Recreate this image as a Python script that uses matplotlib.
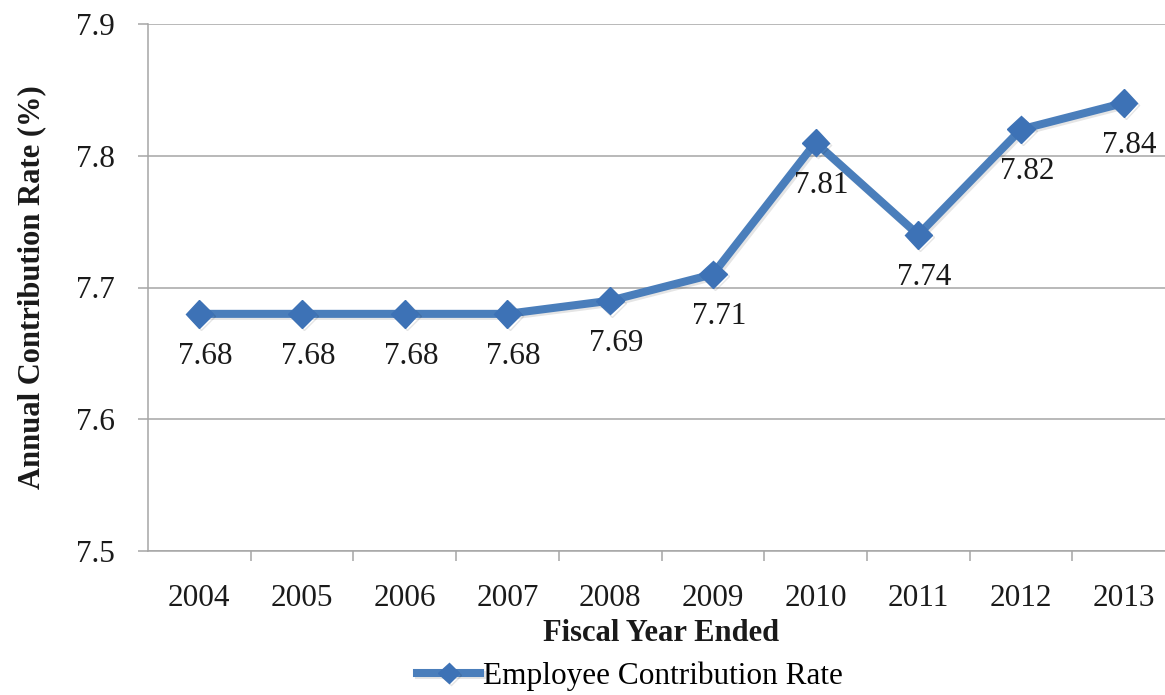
import matplotlib.pyplot as plt
import matplotlib.patheffects as pe

years = ["2004", "2005", "2006", "2007", "2008", "2009", "2010", "2011", "2012", "2013"]
rates = [7.68, 7.68, 7.68, 7.68, 7.69, 7.71, 7.81, 7.74, 7.82, 7.84]
y_ticks = [7.5, 7.6, 7.7, 7.8, 7.9]

plt.rcParams['font.family'] = ['Liberation Serif', 'DejaVu Serif']

fig = plt.figure(figsize=(11.65, 6.95), dpi=100)
ax = fig.add_axes([148 / 1165, 144 / 695, 1027 / 1165, 527 / 695])

x = list(range(len(years)))
line, = ax.plot(x, rates, color='#4a7ebb', lw=5.8, marker='D', markersize=14,
                markerfacecolor='#3d72b6', markeredgecolor='#3d72b6', zorder=3,
                label='Employee Contribution Rate',
                path_effects=[pe.SimpleLineShadow(offset=(1.5, -1.5), alpha=0.1), pe.Normal()])

for xi, v in zip(x, rates):
    ax.annotate(f"{v:.2f}", (xi, v), xytext=(6, -28), textcoords='offset pixels',
                ha='center', va='top', fontsize=22.5, color='#1a1a1a')

ax.set_xlim(-0.5, len(years) - 0.5)
ax.set_ylim(7.5, 7.9)
ax.set_yticks(y_ticks)
ax.set_yticklabels([f"{t:.1f}" for t in y_ticks])
ax.set_xticks(x)
ax.set_xticklabels(years)
ax.set_xticks([i + 0.5 for i in x[:-1]], minor=True)

ax.grid(axis='y', color='#a6a6a6', lw=1.1)
ax.set_axisbelow(True)
for s in ['top', 'right']:
    ax.spines[s].set_visible(False)
for s in ['left', 'bottom']:
    ax.spines[s].set_color('#a6a6a6')
    ax.spines[s].set_linewidth(1.1)

ax.tick_params(axis='y', length=7, width=1.1, color='#a6a6a6', labelsize=22.5, pad=17, labelcolor='#1a1a1a')
ax.tick_params(axis='x', which='major', length=0, labelsize=22.5, pad=24, labelcolor='#1a1a1a')
ax.tick_params(axis='x', which='minor', length=7, width=1.1, color='#a6a6a6')

ax.set_xlabel("Fiscal Year Ended", fontsize=22, fontweight='bold', labelpad=4, color='#1a1a1a')
ax.set_ylabel("Annual Contribution Rate (%)", fontsize=22, fontweight='bold', labelpad=21, color='#1a1a1a')

fig.legend(handles=[line], loc='center', bbox_to_anchor=(630 / 1165, 19 / 695), frameon=False,
           fontsize=22.5, handlelength=2.0, handletextpad=0.1, borderaxespad=0, markerscale=0.75)

fig.savefig("out.png", dpi=100)
